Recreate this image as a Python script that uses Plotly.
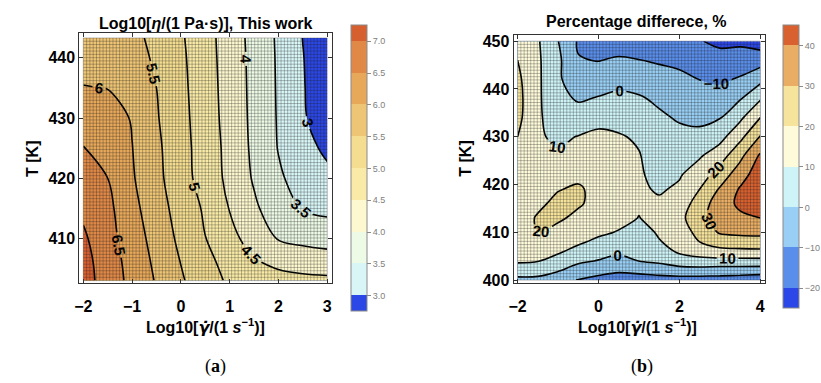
import numpy as np
import plotly.graph_objects as go

# ---------------- data : panel (a) log10 viscosity ----------------
xa = [-2, -1.5, -1, -0.5, 0, 0.5, 1, 1.5, 2, 2.5, 3]
Ta = [403, 406, 410, 415, 420, 425, 430, 435, 440, 443.3]
za = [
    [7.20, 6.78, 6.36, 5.96, 5.56, 5.20, 4.93, 4.75, 4.66, 4.62, 4.60],
    [7.17, 6.75, 6.32, 5.90, 5.49, 5.14, 4.83, 4.55, 4.40, 4.30, 4.25],
    [7.08, 6.67, 6.25, 5.81, 5.39, 5.01, 4.65, 4.29, 3.97, 3.87, 3.80],
    [6.90, 6.62, 6.15, 5.70, 5.31, 4.93, 4.48, 4.08, 3.73, 3.47, 3.38],
    [6.72, 6.50, 6.05, 5.63, 5.20, 4.79, 4.38, 3.95, 3.57, 3.30, 3.10],
    [6.52, 6.40, 6.01, 5.60, 5.17, 4.78, 4.35, 3.90, 3.48, 3.14, 2.92],
    [6.22, 6.20, 5.97, 5.54, 5.15, 4.74, 4.32, 3.88, 3.46, 3.05, 2.75],
    [6.02, 5.99, 5.78, 5.50, 5.12, 4.72, 4.30, 3.87, 3.45, 3.04, 2.62],
    [5.82, 5.78, 5.68, 5.43, 5.09, 4.70, 4.28, 3.86, 3.44, 3.02, 2.60],
    [5.70, 5.68, 5.62, 5.38, 5.06, 4.68, 4.27, 3.84, 3.43, 2.99, 2.55],
]
levels_a = [3.0, 7.0, 0.5]
colors_a = ["#2b47e6", "#d9f6f7", "#edfae6", "#fdf8cf", "#f9eba7",
            "#f4dd90", "#eec575", "#e7a85a", "#e08947", "#d65f30"]

# ---------------- data : panel (b) percentage difference ----------------
xb = [-2, -1.5, -1, -0.5, 0, 0.5, 1, 1.5, 2, 2.5, 3, 3.5, 4]
Tb = [400, 402, 404, 406, 408, 410, 413, 416, 419, 422, 426, 430, 434, 438, 442, 446, 450]
zb = [
    [-3, -2, -6, -10.5, -13, -15, -15, -14, -14, -14, -14, -15, -16],
    [5.9, 3.2, 0.7, -4.2, -6.7, -8.6, -7.3, -5.9, -4.2, -4.2, -5, -5, -5.5],
    [11, 10.3, 7.3, 1.8, -0.5, -2.9, 0.1, 1.9, 5.4, 7.1, 7, 7, 7],
    [12.5, 12, 11, 7.6, 3.9, 1.8, 2.3, 5.7, 11.5, 14.1, 17, 17.5, 18],
    [13.5, 15, 13.5, 11.2, 8.3, 5.5, 4.4, 9.5, 13, 20, 24.7, 26, 26],
    [14.5, 20, 16, 13, 11.5, 9.5, 6.6, 11, 15, 23, 31, 32, 32.5],
    [15, 21, 22, 17, 14, 12.5, 9.8, 12.5, 17, 27, 35, 38, 40],
    [15, 18, 22.5, 21.5, 16, 14, 11, 11.5, 14, 25, 35, 42, 46],
    [15, 15, 19.5, 21.5, 16.5, 15, 11.5, 9, 11.5, 20, 31, 41, 47],
    [15.5, 13, 14, 17.5, 16, 15, 11, 7.5, 9.2, 15, 24.5, 35.7, 46],
    [17, 10, 11, 13, 14.5, 13.5, 10.5, 5.5, 6.3, 9, 15.5, 27.4, 41.5],
    [20, 11, 8.5, 10.3, 12, 10.8, 8.8, 3.5, 2.5, 2.6, 6.7, 17.3, 30.5],
    [22.5, 11.5, 5, 4.5, 7.1, 6.8, 4.9, 1.5, -1, -2.3, -0.5, 8, 20],
    [23, 11.6, 2.9, -1.1, 0.6, 2, 1, -1.7, -4.1, -6.2, -6.1, -0.8, 9],
    [22, 11.8, 1.4, -5.6, -4.7, -2.9, -4.2, -6.3, -7.4, -10.1, -11.5, -9, -2.7],
    [20, 11.5, 2, -9.5, -10.3, -8.75, -9.8, -11, -12.5, -15, -16.5, -15.3, -14.3],
    [17, 11, 0.2, -11, -14, -15, -16, -17, -18, -19.5, -22, -22, -25],
]
levels_b = [-20, 40, 10]
colors_b = ["#2b47e7", "#5a8eeb", "#99cff4", "#cff4f8",
            "#fefbdb", "#f7e49c", "#e9ae63", "#d8612f"]

W, H = 821, 383
FONT = "Liberation Sans"


def stepscale(cols):
    n = len(cols) - 1
    return [[i / n, c] for i, c in enumerate(cols)]


def mesh(xv, yv, n):
    x0, x1, y0, y1 = min(xv), max(xv), min(yv), max(yv)
    xs, ys = [], []
    for v in np.linspace(x0, x1, n + 1):
        xs += [v, v, None]
        ys += [y0, y1, None]
    for v in np.linspace(y0, y1, n + 1):
        xs += [x0, x1, None]
        ys += [v, v, None]
    return xs, ys


def px(v):
    return v / W


def py(v):
    return 1 - v / H


fig = go.Figure()


def add_panel(x, y, z, lev, cols, xa_name, ya_name, cb_x, cb_top, cb_bot, fmt, dt):
    start, end, size = lev
    fig.add_trace(go.Contour(
        x=x, y=y, z=z, xaxis=xa_name, yaxis=ya_name,
        autocontour=False,
        contours=dict(start=start, end=end, size=size, coloring="fill", showlines=False),
        colorscale=stepscale(cols), line=dict(width=0, smoothing=1),
        hoverinfo="skip",
        colorbar=dict(x=px(cb_x), xanchor="left", xpad=0, ypad=0,
                      y=py((cb_top + cb_bot) / 2), yanchor="middle",
                      len=(cb_bot - cb_top) / H, lenmode="fraction",
                      thickness=16, thicknessmode="pixels",
                      outlinewidth=1, outlinecolor="#8a8a8a",
                      tick0=start, dtick=dt, tickformat=fmt,
                      ticks="outside", ticklen=4, tickcolor="#8a8a8a",
                      tickfont=dict(size=9, color="#808080", family=FONT)),
    ))
    mx, my = mesh(x, y, 74)
    fig.add_trace(go.Scatter(x=mx, y=my, mode="lines", xaxis=xa_name, yaxis=ya_name,
                             line=dict(color="rgba(30,30,30,0.5)", width=0.6),
                             hoverinfo="skip", showlegend=False))
    fig.add_trace(go.Contour(
        x=x, y=y, z=z, xaxis=xa_name, yaxis=ya_name,
        autocontour=False, showscale=False,
        contours=dict(start=start, end=end, size=size, coloring="none",
                      showlabels=True,
                      labelfont=dict(size=15, color="black", family=FONT, weight="bold")),
        line=dict(color="black", width=1.6, smoothing=1),
        hoverinfo="skip",
    ))


add_panel(xa, Ta, za, levels_a, colors_a, "x", "y", 349, 24, 316, ".1f", 0.5)
add_panel(xb, Tb, zb, levels_b, colors_b, "x2", "y2", 785, 24, 313, "d", 10)

axis_common = dict(showgrid=False, zeroline=False, showline=True, mirror="ticks",
                   linecolor="#333", linewidth=1, ticks="inside", ticklen=4,
                   tickcolor="#333", tickfont=dict(size=16, color="black", family=FONT,
                                                   weight="bold"))

fig.update_layout(
    width=W, height=H, margin=dict(l=0, r=0, t=0, b=0),
    paper_bgcolor="white", plot_bgcolor="white", showlegend=False,
    xaxis=dict(domain=[px(75), px(330)], range=[-2.081, 3.102], anchor="y",
               tickvals=[-2, -1, 0, 1, 2, 3], ticklabelstandoff=9, **axis_common),
    yaxis=dict(domain=[py(287), py(32)], range=[402.6, 444.07], anchor="x",
               tickvals=[410, 420, 430, 440], **axis_common),
    xaxis2=dict(domain=[px(513), px(767)], range=[-2.098, 4.127], anchor="y2",
                tickvals=[-2, 0, 2, 4], ticklabelstandoff=9, **axis_common),
    yaxis2=dict(domain=[py(287), py(34)], range=[399.39, 451.23], anchor="x2",
                tickvals=[400, 410, 420, 430, 440, 450], **axis_common),
)

bold16 = dict(size=16, color="black", family=FONT, weight="bold")
gdot = "<span style=\"font-family:'DejaVu Sans'\"><i>γ̇</i></span>"
ann = [
    dict(text="Log10[<i>η</i>/(1 Pa·s)], This work", x=px(202), y=py(21.5), font=bold16),
    dict(text="Percentage differece, %", x=px(637), y=py(19.5), font=bold16),
    dict(text="T [K]", x=px(27.5), y=py(160), textangle=-90, font=bold16),
    dict(text="T [K]", x=px(465), y=py(160), textangle=-90, font=bold16),
    dict(text="Log10[" + gdot + "/(1 <i>s</i><sup>−1</sup>)]", x=px(202), y=py(331), font=bold16),
    dict(text="Log10[" + gdot + "/(1 <i>s</i><sup>−1</sup>)]", x=px(638), y=py(331), font=bold16),
    dict(text="(<b>a</b>)", x=px(212), y=py(372.5),
         font=dict(size=18, color="black", family="Liberation Serif")),
    dict(text="(<b>b</b>)", x=px(642), y=py(372.5),
         font=dict(size=18, color="black", family="Liberation Serif")),
]
for a in ann:
    a.update(xref="paper", yref="paper", showarrow=False, xanchor="center", yanchor="middle")
fig.update_layout(annotations=ann)

fig.write_html("out.html")
